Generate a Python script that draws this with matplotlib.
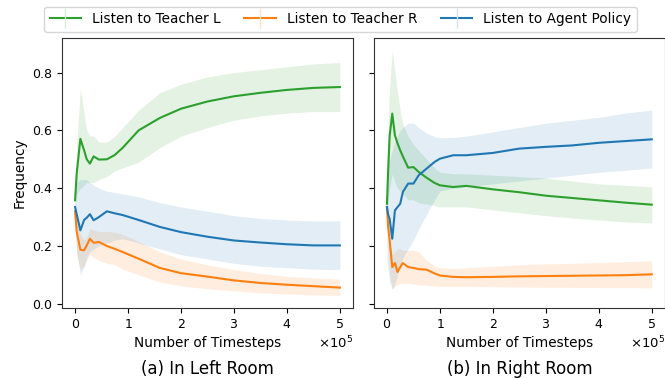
import matplotlib
matplotlib.use("Agg")
import matplotlib.pyplot as plt
import numpy as np
from matplotlib.lines import Line2D
from matplotlib.ticker import ScalarFormatter

GREEN = "#2ca02c"; ORANGE = "#ff7f0e"; BLUE = "#1f77b4"
GREEN_L = "#d5efd5"; ORANGE_L = "#ffe2cc"; BLUE_L = "#d2e4f0"

# timesteps in units of 1e5
x_a = [0, 0.03, 0.1, 0.17, 0.22, 0.28, 0.35, 0.45, 0.6, 0.75, 0.9, 1.2, 1.6, 2.0, 2.5, 3.0, 3.5, 4.0, 4.5, 5.0]
teacher_l_a = [0.358, 0.45, 0.571, 0.531, 0.50, 0.485, 0.51, 0.499, 0.50, 0.515, 0.54, 0.60, 0.643, 0.675, 0.70, 0.718, 0.73, 0.74, 0.747, 0.75]
teacher_l_a_lo = [0.33, 0.38, 0.40, 0.41, 0.42, 0.42, 0.42, 0.43, 0.44, 0.46, 0.47, 0.49, 0.54, 0.58, 0.61, 0.635, 0.65, 0.66, 0.665, 0.665]
teacher_l_a_hi = [0.39, 0.55, 0.745, 0.66, 0.60, 0.58, 0.58, 0.56, 0.56, 0.58, 0.61, 0.67, 0.73, 0.76, 0.785, 0.80, 0.81, 0.82, 0.83, 0.835]
teacher_r_a = [0.32, 0.25, 0.187, 0.185, 0.202, 0.225, 0.211, 0.214, 0.20, 0.19, 0.179, 0.156, 0.124, 0.106, 0.094, 0.081, 0.072, 0.066, 0.061, 0.056]
teacher_r_a_lo = [0.28, 0.17, 0.12, 0.13, 0.15, 0.17, 0.16, 0.15, 0.14, 0.135, 0.12, 0.10, 0.075, 0.062, 0.052, 0.045, 0.038, 0.034, 0.031, 0.029]
teacher_r_a_hi = [0.35, 0.30, 0.24, 0.22, 0.23, 0.26, 0.255, 0.25, 0.25, 0.248, 0.24, 0.215, 0.18, 0.155, 0.135, 0.118, 0.105, 0.095, 0.09, 0.085]
agent_a = [0.335, 0.31, 0.254, 0.29, 0.298, 0.31, 0.289, 0.30, 0.32, 0.313, 0.307, 0.29, 0.266, 0.248, 0.232, 0.219, 0.212, 0.206, 0.202, 0.202]
agent_a_lo = [0.28, 0.18, 0.10, 0.13, 0.16, 0.18, 0.19, 0.20, 0.21, 0.22, 0.225, 0.21, 0.19, 0.17, 0.155, 0.14, 0.13, 0.125, 0.12, 0.118]
agent_a_hi = [0.39, 0.42, 0.43, 0.43, 0.43, 0.42, 0.41, 0.40, 0.39, 0.385, 0.38, 0.37, 0.35, 0.335, 0.32, 0.305, 0.295, 0.29, 0.287, 0.287]

x_b = [0, 0.02, 0.05, 0.1, 0.15, 0.2, 0.25, 0.3, 0.4, 0.5, 0.6, 0.75, 0.9, 1.0, 1.25, 1.5, 2.0, 2.5, 3.0, 3.5, 4.0, 4.5, 5.0]
teacher_l_b = [0.346, 0.45, 0.58, 0.658, 0.583, 0.555, 0.531, 0.51, 0.471, 0.473, 0.456, 0.436, 0.418, 0.41, 0.404, 0.408, 0.396, 0.386, 0.374, 0.366, 0.358, 0.35, 0.343]
teacher_l_b_lo = [0.32, 0.35, 0.40, 0.45, 0.42, 0.40, 0.39, 0.38, 0.36, 0.36, 0.35, 0.345, 0.34, 0.335, 0.335, 0.335, 0.325, 0.315, 0.305, 0.297, 0.29, 0.283, 0.28]
teacher_l_b_hi = [0.37, 0.60, 0.75, 0.875, 0.80, 0.73, 0.67, 0.62, 0.58, 0.55, 0.53, 0.50, 0.47, 0.455, 0.45, 0.45, 0.445, 0.44, 0.435, 0.425, 0.415, 0.41, 0.405]
teacher_r_b = [0.335, 0.27, 0.22, 0.127, 0.141, 0.11, 0.127, 0.141, 0.127, 0.124, 0.12, 0.118, 0.105, 0.098, 0.093, 0.092, 0.093, 0.095, 0.096, 0.097, 0.098, 0.099, 0.102]
teacher_r_b_lo = [0.30, 0.20, 0.10, 0.05, 0.06, 0.065, 0.07, 0.07, 0.07, 0.068, 0.066, 0.064, 0.062, 0.06, 0.06, 0.06, 0.059, 0.058, 0.057, 0.057, 0.056, 0.056, 0.055]
teacher_r_b_hi = [0.36, 0.30, 0.22, 0.17, 0.18, 0.19, 0.19, 0.185, 0.185, 0.185, 0.18, 0.15, 0.13, 0.125, 0.122, 0.125, 0.13, 0.135, 0.138, 0.14, 0.143, 0.146, 0.148]
agent_b = [0.335, 0.31, 0.294, 0.225, 0.323, 0.335, 0.346, 0.387, 0.416, 0.416, 0.445, 0.468, 0.491, 0.502, 0.514, 0.514, 0.522, 0.537, 0.543, 0.548, 0.557, 0.563, 0.569]
agent_b_lo = [0.15, 0.12, 0.08, 0.05, 0.07, 0.10, 0.13, 0.16, 0.19, 0.22, 0.26, 0.31, 0.36, 0.39, 0.40, 0.405, 0.415, 0.425, 0.435, 0.445, 0.455, 0.462, 0.47]
agent_b_hi = [0.51, 0.50, 0.50, 0.53, 0.56, 0.58, 0.60, 0.61, 0.625, 0.625, 0.61, 0.59, 0.578, 0.575, 0.575, 0.58, 0.595, 0.61, 0.625, 0.635, 0.645, 0.66, 0.67]

labels = ["Listen to Teacher L", "Listen to Teacher R", "Listen to Agent Policy"]
captions = ["(a) In Left Room", "(b) In Right Room"]

plt.rcParams.update({"font.family": "DejaVu Sans", "font.size": 9})

fig = plt.figure(figsize=(6.65, 3.79), dpi=100)
ax1 = fig.add_axes([0.093, 0.187, 0.438, 0.713])
ax2 = fig.add_axes([0.562, 0.187, 0.438, 0.713], sharey=ax1)

panels = [
    (ax1, x_a, [(teacher_l_a, teacher_l_a_lo, teacher_l_a_hi), (teacher_r_a, teacher_r_a_lo, teacher_r_a_hi), (agent_a, agent_a_lo, agent_a_hi)]),
    (ax2, x_b, [(teacher_l_b, teacher_l_b_lo, teacher_l_b_hi), (teacher_r_b, teacher_r_b_lo, teacher_r_b_hi), (agent_b, agent_b_lo, agent_b_hi)]),
]
colors = [GREEN, ORANGE, BLUE]
light = [GREEN_L, ORANGE_L, BLUE_L]
for ax, xs, series in panels:
    steps = np.array(xs) * 1e5
    for (m, lo, hi), c in zip(series, colors):
        ax.fill_between(steps, lo, hi, color=c, alpha=0.13, lw=0)
    for (m, lo, hi), c in zip(series, colors):
        ax.plot(steps, m, color=c, lw=1.5)
    ax.set_xlim(-0.25e5, 5.25e5)
    ax.set_xticks(np.arange(0, 6) * 1e5)
    fmt = ScalarFormatter(useMathText=True)
    fmt.set_powerlimits((0, 0))
    ax.xaxis.set_major_formatter(fmt)
    ax.xaxis.get_offset_text().set_fontsize(9.5)
    ax.set_xlabel("Number of Timesteps", fontsize=9.8)
    for s in ax.spines.values():
        s.set_color("#333333")

ax1.set_ylim(-0.015, 0.92)
ax1.set_yticks([0.0, 0.2, 0.4, 0.6, 0.8])
ax1.set_ylabel("Frequency", fontsize=9.8)
plt.setp(ax2.get_yticklabels(), visible=False)

fig.text(0.312, 0.014, captions[0], ha="center", fontsize=12)
fig.text(0.781, 0.014, captions[1], ha="center", fontsize=12)

# legend handles: line with a faint vertical band tick, like the shaded-band handle
handles = [Line2D([], [], color=c, lw=1.5, marker="|", markersize=15,
                  markeredgecolor=lc, markeredgewidth=1.0)
           for c, lc in zip(colors, light)]
leg = fig.legend(handles, labels, loc="upper center", bbox_to_anchor=(0.512, 0.995), ncol=3,
                 fontsize=9.8, columnspacing=1.75, handlelength=2.3, handletextpad=0.8,
                 borderaxespad=0.35, numpoints=1)

fig.savefig("out.png", dpi=100)
